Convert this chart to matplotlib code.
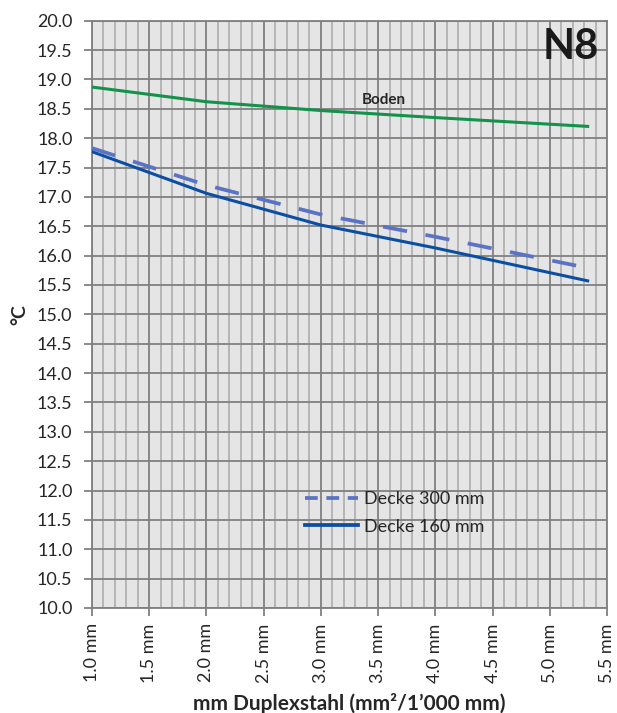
import matplotlib
matplotlib.use("Agg")
import matplotlib.pyplot as plt
from matplotlib.lines import Line2D
from matplotlib.ticker import MultipleLocator, FuncFormatter

plt.rcParams['font.family'] = ['Lato', 'DejaVu Sans']

x_vals = [1.0, 2.0, 3.0, 4.0, 5.33]
boden = [18.87, 18.62, 18.47, 18.35, 18.20]
decke_300 = [17.83, 17.20, 16.70, 16.32, 15.79]
decke_160 = [17.77, 17.06, 16.52, 16.13, 15.57]

c_boden = '#12924a'
c_300 = '#5b73c4'
c_160 = '#0a4fa3'

fig = plt.figure(figsize=(6.17, 7.13), dpi=100)
ax = fig.add_axes([0.149, 0.1473, 0.835, 0.8237])
ax.set_facecolor('#e5e5e5')

ax.set_xlim(1.0, 5.5)
ax.set_ylim(10.0, 20.0)
ax.xaxis.set_major_locator(MultipleLocator(0.5))
ax.xaxis.set_minor_locator(MultipleLocator(0.1))
ax.yaxis.set_major_locator(MultipleLocator(0.5))
ax.grid(which='major', axis='both', color='#808080', linewidth=1.3)
ax.grid(which='minor', axis='x', color='#a8a8a8', linewidth=1.1)
ax.set_axisbelow(True)

ax.plot(x_vals, boden, color=c_boden, lw=2.2, zorder=3)
ax.plot(x_vals, decke_300, color=c_300, lw=2.7, dashes=(6.5, 5), zorder=3)
ax.plot(x_vals, decke_160, color=c_160, lw=2.2, zorder=3)

ax.text(3.55, 18.65, 'Boden', fontsize=11, fontweight='bold', color='#262626', ha='center', va='center')
ax.text(0.9845, 0.9557, 'N8', transform=ax.transAxes, fontsize=30, fontweight='bold', color='#1a1a1a', ha='right', va='center')

ax.xaxis.set_major_formatter(FuncFormatter(lambda v, p: f'{v:.1f} mm'))
ax.yaxis.set_major_formatter(FuncFormatter(lambda v, p: f'{v:.1f}'))
ax.tick_params(axis='x', which='major', labelrotation=90, labelsize=13, colors='#262626', length=6, color='#808080', width=1.3, pad=5)
ax.tick_params(axis='x', which='minor', length=0)
ax.tick_params(axis='y', labelsize=13, colors='#262626', length=6, color='#808080', width=1.3, pad=8)

for s in ax.spines.values():
    s.set_color('#808080')
    s.set_linewidth(1.3)

ax.set_xlabel('mm Duplexstahl (mm²/1’000 mm)', fontsize=15, fontweight='bold', color='#262626', va='center')
ax.xaxis.set_label_coords(0.5, -0.162)
ax.set_ylabel('°C', fontsize=14, fontweight='bold', color='#262626', va='center')
ax.yaxis.set_label_coords(-0.14, 0.5)

handles = [Line2D([], [], color=c_300, lw=2.7, dashes=(3.4, 2.3)),
           Line2D([], [], color=c_160, lw=2.7)]
labels = ['Decke 300 mm', 'Decke 160 mm']
leg = ax.legend(handles, labels, loc='center left', bbox_to_anchor=(0.4136, 0.162), frameon=False, fontsize=13,
                handlelength=2.95, handletextpad=0.3, labelspacing=0.65, borderaxespad=0, borderpad=0)
for t in leg.get_texts():
    t.set_color('#262626')

fig.savefig('out.png', dpi=100)
